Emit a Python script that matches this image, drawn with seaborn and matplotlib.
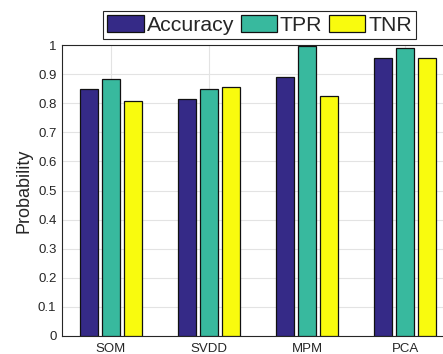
import matplotlib
matplotlib.use("Agg")
import matplotlib.pyplot as plt
import seaborn as sns
import pandas as pd
from matplotlib.patches import Patch

methods = ["SOM", "SVDD", "MPM", "PCA"]
metrics = ["Accuracy", "TPR", "TNR"]
accuracy = [0.849, 0.814, 0.889, 0.956]
tpr = [0.884, 0.848, 0.997, 0.989]
tnr = [0.809, 0.856, 0.824, 0.954]
colors = ["#352a87", "#38b99e", "#f9fb0e"]
yticks = [0, 0.1, 0.2, 0.3, 0.4, 0.5, 0.6, 0.7, 0.8, 0.9, 1.0]
yticklabels = ["0", "0.1", "0.2", "0.3", "0.4", "0.5", "0.6", "0.7", "0.8", "0.9", "1"]

rows = []
for name, vals in zip(metrics, [accuracy, tpr, tnr]):
    for m, v in zip(methods, vals):
        rows.append({"Method": m, "Metric": name, "Probability": v})
df = pd.DataFrame(rows)

sns.set_style("white")
plt.rcParams["font.family"] = ["Liberation Sans", "DejaVu Sans"]

fig = plt.figure(figsize=(4.43, 3.54), dpi=100)
ax = fig.add_axes([62 / 443, 1 - 336 / 354, 392 / 443, 291 / 354])

sns.barplot(data=df, x="Method", y="Probability", hue="Metric", order=methods,
            hue_order=metrics, palette=colors, width=0.67, gap=0.2,
            edgecolor="#111111", linewidth=0.9, saturation=1, legend=False, ax=ax, zorder=3)

ax.set_xlim(-0.5, 3.5)
ax.set_ylim(0, 1)
ax.set_yticks(yticks)
ax.set_yticklabels(yticklabels)
ax.set_xlabel("")
ax.set_ylabel("Probability", fontsize=13, color="#262626", labelpad=4)
ax.grid(True, color="#e3e3e3", linewidth=0.8, zorder=0)
ax.set_axisbelow(True)
ax.tick_params(axis="both", direction="in", length=4, width=0.6, colors="#262626",
               labelsize=9.5, pad=4)
ax.tick_params(axis="x", pad=5)
for side in ["left", "bottom", "top"]:
    ax.spines[side].set_visible(True)
    ax.spines[side].set_color("#262626")
    ax.spines[side].set_linewidth(0.8)
ax.spines["right"].set_visible(False)

handles = [Patch(facecolor=c, edgecolor="#111111", linewidth=0.9) for c in colors]
leg = fig.legend(handles, metrics, loc="center", bbox_to_anchor=(0.586, 0.929),
                 bbox_transform=fig.transFigure, ncol=3, fontsize=15.3,
                 handlelength=1.7, handleheight=0.85, handletextpad=0.15,
                 columnspacing=0.3, borderpad=0.2, borderaxespad=0,
                 fancybox=False, framealpha=1, edgecolor="#262626")
leg.get_frame().set_linewidth(0.8)

fig.savefig("out.png", dpi=100)
